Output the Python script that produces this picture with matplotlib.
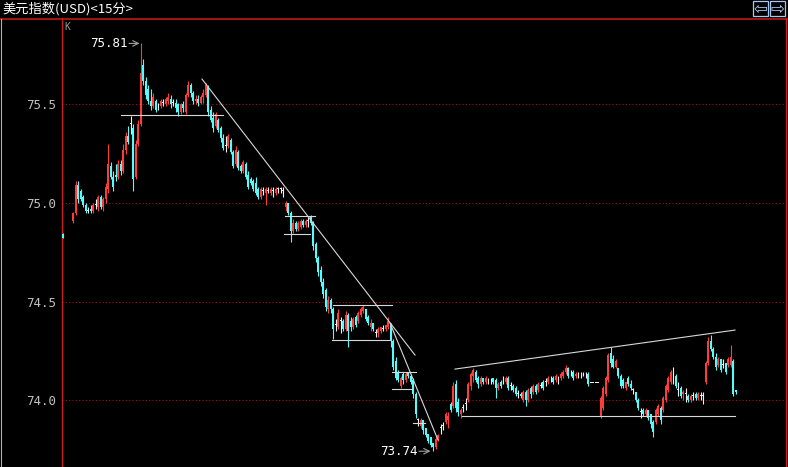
import matplotlib
matplotlib.use('Agg')
import matplotlib.pyplot as plt
from matplotlib.lines import Line2D
from matplotlib.patches import Rectangle
import numpy as np

W, H = 788, 467
title = '美元指数(USD)<15分>'
ytick_vals = [74.0, 74.5, 75.0, 75.5]
ytick_labels = ['74.0', '74.5', '75.0', '75.5']
high_label = '75.81'
low_label = '73.74'

opens = [
    74.845, 74.82, 74.82, 74.82,
    74.91, 74.95, 75.09, 75.06, 75.03, 74.99, 74.96, 74.97, 74.96, 74.99, 74.98, 75.03, 74.98, 75.02,
    75.07, 75.19, 75.13, 75.14, 75.13, 75.20, 75.16, 75.27, 75.34, 75.40, 75.38, 75.13, 75.30, 75.40,
    75.70, 75.62, 75.58, 75.52, 75.49, 75.52, 75.49, 75.49, 75.51, 75.50, 75.52, 75.53, 75.51,
    75.51, 75.50, 75.46, 75.50, 75.46, 75.55, 75.60, 75.56, 75.52, 75.53, 75.51, 75.54, 75.55,
    75.59, 75.47, 75.43, 75.39, 75.42, 75.38, 75.33, 75.29, 75.29, 75.32, 75.26, 75.20, 75.26,
    75.19, 75.16, 75.20, 75.14, 75.12, 75.11, 75.10, 75.07, 75.03, 75.06, 75.05, 75.06, 75.05,
    75.06, 75.05, 75.07, 75.07, 75.06, 74.98, 75.00, 74.95,
    74.86, 74.90, 74.87, 74.88, 74.91, 74.89, 74.91, 74.93, 74.90,
    74.79, 74.72, 74.66, 74.60, 74.56, 74.46, 74.51, 74.46,
    74.38, 74.37, 74.40, 74.40, 74.36, 74.43, 74.40, 74.37, 74.42, 74.40, 74.43, 74.45,
    74.46, 74.42, 74.37, 74.39, 74.34, 74.34, 74.35, 74.36, 74.36, 74.37, 74.38,
    74.30, 74.20, 74.14, 74.07, 74.13, 74.10, 74.14, 74.12, 74.10, 74.03, 73.90, 73.87,
    73.90, 73.86, 73.83, 73.81, 73.78,
    73.76, 73.80, 73.86, 73.87, 73.89, 73.90, 73.98, 73.97, 74.08, 73.99, 73.93, 73.96,
    73.98, 74.00, 74.07,
    74.12, 74.14, 74.11, 74.08, 74.11, 74.09, 74.10, 74.10, 74.11, 74.10, 74.06, 74.09,
    74.10, 74.09, 74.11, 74.07, 74.07, 74.06, 74.03, 74.03, 74.00, 74.04, 74.00, 74.06,
    74.04, 74.07, 74.05, 74.07, 74.09, 74.09, 74.09, 74.10, 74.11, 74.10, 74.11, 74.11,
    74.12, 74.14, 74.16, 74.14, 74.14, 74.12, 74.13, 74.13, 74.13, 74.13, 74.13,
    74.085, 74.085, 74.085, 74.085,
    73.92, 73.96, 74.03, 74.10, 74.24, 74.21, 74.17, 74.16, 74.12, 74.10, 74.06, 74.11,
    74.08, 74.05, 74.04, 74.00, 73.94, 73.95, 73.93, 73.95, 73.93, 73.89, 73.89, 73.93,
    73.96, 73.95, 74.00, 74.05, 74.09, 74.12, 74.12, 74.05, 74.06, 74.03, 74.03, 74.02,
    74.00, 74.02, 74.03, 74.01, 74.02, 74.02,
    74.09, 74.19, 74.30, 74.26, 74.22, 74.18, 74.21, 74.18, 74.19, 74.18, 74.18, 74.20, 74.05,
]
highs = [
    74.85, 74.82, 74.82, 74.82,
    74.955, 75.11, 75.11, 75.07, 75.04, 75.00, 74.98, 74.99, 75.00, 75.02, 75.04, 75.04, 75.03, 75.10,
    75.30, 75.21, 75.16, 75.20, 75.22, 75.22, 75.30, 75.36, 75.39, 75.44, 75.40, 75.32, 75.42, 75.81,
    75.73, 75.64, 75.60, 75.58, 75.56, 75.53, 75.51, 75.53, 75.53, 75.54, 75.56, 75.55, 75.53,
    75.53, 75.51, 75.51, 75.52, 75.56, 75.62, 75.61, 75.57, 75.55, 75.55, 75.55, 75.58, 75.61,
    75.60, 75.49, 75.46, 75.46, 75.43, 75.39, 75.35, 75.34, 75.35, 75.33, 75.27, 75.29, 75.27,
    75.20, 75.22, 75.21, 75.16, 75.13, 75.12, 75.13, 75.08, 75.08, 75.08, 75.08, 75.08, 75.08,
    75.08, 75.08, 75.08, 75.08, 75.08, 75.01, 75.00, 74.96,
    74.92, 74.91, 74.91, 74.92, 74.92, 74.92, 74.93, 74.94, 74.91,
    74.80, 74.73, 74.68, 74.62, 74.57, 74.53, 74.52, 74.47,
    74.41, 74.46, 74.42, 74.41, 74.45, 74.44, 74.42, 74.42, 74.43, 74.45, 74.47, 74.48,
    74.46, 74.43, 74.41, 74.39, 74.36, 74.37, 74.37, 74.38, 74.38, 74.42, 74.39,
    74.31, 74.22, 74.15, 74.12, 74.14, 74.14, 74.14, 74.13, 74.11, 74.04, 73.91, 73.91,
    73.90, 73.86, 73.83, 73.81, 73.78,
    73.81, 73.83, 73.88, 73.89, 73.94, 73.94, 73.99, 74.09, 74.10, 74.01, 73.96, 73.98,
    74.01, 74.09, 74.14,
    74.16, 74.15, 74.12, 74.12, 74.11, 74.12, 74.11, 74.11, 74.11, 74.11, 74.09, 74.10,
    74.12, 74.12, 74.12, 74.09, 74.08, 74.07, 74.05, 74.04, 74.05, 74.05, 74.06, 74.07,
    74.08, 74.08, 74.09, 74.09, 74.10, 74.11, 74.12, 74.12, 74.12, 74.13, 74.12, 74.14,
    74.15, 74.18, 74.17, 74.15, 74.15, 74.14, 74.14, 74.14, 74.14, 74.14, 74.14,
    74.085, 74.085, 74.085, 74.085,
    74.02, 74.07, 74.12, 74.24, 74.27, 74.23, 74.21, 74.16, 74.13, 74.11, 74.09, 74.12,
    74.10, 74.06, 74.04, 74.01, 73.96, 73.96, 73.96, 73.95, 73.93, 73.90, 73.96, 73.98,
    73.97, 74.02, 74.08, 74.12, 74.15, 74.17, 74.13, 74.09, 74.07, 74.05, 74.06, 74.03,
    74.03, 74.04, 74.04, 74.04, 74.04, 74.04,
    74.20, 74.32, 74.33, 74.27, 74.24, 74.22, 74.21, 74.21, 74.19, 74.22, 74.28, 74.21, 74.05,
]
lows = [
    74.82, 74.82, 74.82, 74.82,
    74.90, 74.94, 75.00, 75.01, 74.98, 74.95, 74.95, 74.95, 74.95, 74.97, 74.96, 74.97, 74.96, 75.00,
    75.05, 75.12, 75.06, 75.11, 75.12, 75.14, 75.15, 75.25, 75.30, 75.35, 75.06, 75.12, 75.29, 75.39,
    75.60, 75.53, 75.50, 75.47, 75.48, 75.46, 75.47, 75.48, 75.49, 75.49, 75.50, 75.48, 75.49,
    75.46, 75.44, 75.45, 75.46, 75.45, 75.54, 75.54, 75.50, 75.50, 75.49, 75.50, 75.51, 75.54,
    75.44, 75.41, 75.36, 75.38, 75.36, 75.31, 75.27, 75.26, 75.28, 75.25, 75.18, 75.19, 75.17,
    75.15, 75.15, 75.12, 75.07, 75.09, 75.06, 75.04, 75.02, 75.02, 75.04, 74.99, 75.05, 75.04,
    75.03, 75.04, 75.05, 75.05, 75.03, 74.96, 74.94, 74.80,
    74.85, 74.86, 74.86, 74.87, 74.88, 74.88, 74.88, 74.89, 74.76,
    74.70, 74.63, 74.58, 74.52, 74.45, 74.44, 74.44, 74.31,
    74.35, 74.36, 74.34, 74.35, 74.35, 74.27, 74.35, 74.36, 74.37, 74.39, 74.42, 74.44,
    74.40, 74.38, 74.35, 74.35, 74.32, 74.32, 74.34, 74.35, 74.35, 74.36, 74.27,
    74.15, 74.10, 74.09, 74.06, 74.08, 74.09, 74.11, 74.08, 74.01, 73.91, 73.87, 73.86,
    73.83, 73.81, 73.78, 73.76, 73.74,
    73.75, 73.79, 73.83, 73.85, 73.88, 73.86, 73.94, 73.96, 73.94, 73.92, 73.91, 73.94,
    73.95, 73.99, 74.05,
    74.09, 74.09, 74.06, 74.07, 74.08, 74.08, 74.08, 74.08, 74.08, 74.01, 74.05, 74.06,
    74.08, 74.08, 74.05, 74.05, 74.04, 74.02, 74.01, 74.01, 73.99, 73.97, 73.99, 74.01,
    74.03, 74.03, 74.04, 74.06, 74.05, 74.07, 74.08, 74.09, 74.08, 74.09, 74.08, 74.10,
    74.11, 74.13, 74.11, 74.12, 74.10, 74.11, 74.11, 74.11, 74.12, 74.11, 74.07,
    74.085, 74.085, 74.085, 74.085,
    73.91, 73.95, 74.02, 74.09, 74.17, 74.16, 74.16, 74.11, 74.06, 74.06, 74.05, 74.07,
    74.05, 74.03, 73.99, 73.95, 73.91, 73.92, 73.92, 73.90, 73.86, 73.81, 73.88, 73.92,
    73.88, 73.94, 73.99, 74.04, 74.08, 74.08, 74.06, 74.02, 74.01, 74.00, 73.99, 73.99,
    73.99, 74.00, 74.00, 74.00, 74.00, 73.98,
    74.08, 74.18, 74.25, 74.21, 74.15, 74.17, 74.14, 74.16, 74.13, 74.17, 74.17, 74.02, 74.03,
]
closes = [
    74.82, 74.82, 74.82, 74.82,
    74.95, 75.09, 75.02, 75.02, 74.99, 74.96, 74.96, 74.96, 74.99, 74.99, 75.03, 74.98, 75.02, 75.08,
    75.20, 75.13, 75.08, 75.13, 75.20, 75.16, 75.27, 75.34, 75.31, 75.40, 75.12, 75.30, 75.40, 75.66,
    75.62, 75.55, 75.52, 75.49, 75.54, 75.47, 75.49, 75.52, 75.51, 75.53, 75.54, 75.50, 75.51,
    75.48, 75.46, 75.50, 75.48, 75.55, 75.60, 75.56, 75.52, 75.53, 75.51, 75.54, 75.56, 75.60,
    75.46, 75.42, 75.38, 75.45, 75.37, 75.33, 75.28, 75.29, 75.34, 75.26, 75.19, 75.27, 75.18,
    75.16, 75.21, 75.13, 75.08, 75.10, 75.07, 75.05, 75.03, 75.07, 75.06, 75.07, 75.06, 75.07,
    75.06, 75.07, 75.07, 75.07, 75.06, 75.00, 74.95, 74.86,
    74.90, 74.87, 74.90, 74.91, 74.89, 74.91, 74.91, 74.90, 74.78,
    74.72, 74.65, 74.60, 74.54, 74.47, 74.51, 74.46, 74.36,
    74.38, 74.44, 74.40, 74.36, 74.43, 74.35, 74.37, 74.41, 74.38, 74.44, 74.46, 74.47,
    74.41, 74.39, 74.39, 74.36, 74.34, 74.36, 74.37, 74.36, 74.38, 74.40, 74.30,
    74.17, 74.11, 74.10, 74.11, 74.10, 74.13, 74.12, 74.09, 74.03, 73.93, 73.90, 73.90,
    73.85, 73.82, 73.79, 73.77, 73.76,
    73.80, 73.82, 73.86, 73.87, 73.93, 73.92, 73.95, 74.07, 73.96, 73.94, 73.95, 73.96,
    73.98, 74.08, 74.13,
    74.15, 74.10, 74.08, 74.11, 74.09, 74.11, 74.10, 74.10, 74.09, 74.06, 74.08, 74.07,
    74.10, 74.11, 74.06, 74.07, 74.05, 74.03, 74.03, 74.02, 74.04, 74.00, 74.05, 74.03,
    74.07, 74.04, 74.08, 74.07, 74.06, 74.09, 74.11, 74.10, 74.09, 74.12, 74.11, 74.13,
    74.14, 74.16, 74.12, 74.14, 74.11, 74.13, 74.13, 74.13, 74.13, 74.13, 74.08,
    74.085, 74.085, 74.085, 74.085,
    74.01, 74.06, 74.11, 74.23, 74.19, 74.17, 74.20, 74.12, 74.07, 74.07, 74.09, 74.08,
    74.06, 74.05, 74.00, 73.96, 73.94, 73.93, 73.95, 73.91, 73.88, 73.84, 73.95, 73.97,
    73.90, 74.01, 74.07, 74.11, 74.14, 74.12, 74.07, 74.05, 74.02, 74.04, 74.03, 74.00,
    74.02, 74.02, 74.01, 74.03, 74.02, 74.02,
    74.19, 74.30, 74.26, 74.22, 74.17, 74.21, 74.15, 74.18, 74.14, 74.21, 74.22, 74.03, 74.04,
]

# hand-drawn analysis lines (candle index, price)
trend_lines = [
    ((23.2, 75.447), (64.0, 75.447)),
    ((55.6, 75.629), (140.8, 74.228)),
    ((88.8, 74.934), (100.8, 74.934)),
    ((88.4, 74.843), (98.8, 74.843)),
    ((108.0, 74.480), (131.6, 74.480)),
    ((107.6, 74.305), (130.8, 74.305)),
    ((130.8, 74.391), (150.0, 73.797)),
    ((131.6, 74.142), (141.2, 74.142)),
    ((131.6, 74.056), (139.6, 74.056)),
    ((140.0, 73.883), (144.8, 73.883)),
    ((156.8, 74.157), (268.8, 74.355)),
    ((159.6, 73.920), (268.8, 73.920)),
]

UP = '#ff3c3c'
DOWN = '#54fcfc'
DOJI = '#f0f0f0'

fig = plt.figure(figsize=(W / 100, H / 100), dpi=100, facecolor='black')


def fx(x):
    return x / W


def fy(y):
    return 1 - y / H


ax = fig.add_axes([fx(62), 0, fx(786) - fx(62), 1 - 18 / H])
ax.set_facecolor('black')
n = len(closes)
idx = np.arange(n)
o = np.array(opens)
hi = np.array(highs)
lo = np.array(lows)
c = np.array(closes)
cols = [UP if cc > oo else (DOWN if cc < oo else DOJI) for oo, cc in zip(o, c)]

for v in ytick_vals:
    ax.axhline(v, color='#a01414', lw=0.8, ls=(0, (1, 2)), zorder=1)

ax.vlines(idx, lo, hi, colors=cols, lw=0.8, zorder=3)
bottoms = np.minimum(o, c)
heights = np.maximum(np.abs(c - o), 0.004)
ax.bar(idx, heights, bottom=bottoms, width=0.8, color=cols, linewidth=0, zorder=3)

for (x0, y0), (x1, y1) in trend_lines:
    ax.plot([x0, x1], [y0, y1], color='#d8d8d8', lw=0.8, zorder=4)

ax.set_xlim(-0.4, 289.2)
ax.set_ylim(73.660, 75.939)
ax.set_xticks([])
ax.set_yticks(ytick_vals, ytick_labels)
ax.tick_params(axis='y', length=0, pad=4, colors='#c0c0c0', labelsize=9)
for t in ax.get_yticklabels():
    t.set_fontfamily('DejaVu Sans Mono')
for s in ['top', 'bottom']:
    ax.spines[s].set_visible(False)
for s in ['left', 'right']:
    ax.spines[s].set_color('#d02020')
    ax.spines[s].set_linewidth(1)

# high / low markers
i_hi = int(np.argmax(hi))
i_lo = int(np.argmin(lo))
ax.text(i_hi - 5.0, hi[i_hi], high_label, color='white', fontsize=9,
        family='DejaVu Sans Mono', ha='right', va='center', zorder=5)
ax.annotate('', xy=(i_hi - 0.4, hi[i_hi]), xytext=(i_hi - 4.6, hi[i_hi]),
            arrowprops=dict(arrowstyle='->', color='#a0a0a0', lw=0.8, shrinkA=0, shrinkB=0))
ax.text(i_lo - 6.3, lo[i_lo], low_label, color='white', fontsize=9,
        family='DejaVu Sans Mono', ha='right', va='center', zorder=5)
ax.annotate('', xy=(i_lo - 1.0, lo[i_lo]), xytext=(i_lo - 5.6, lo[i_lo]),
            arrowprops=dict(arrowstyle='->', color='#a0a0a0', lw=0.8, shrinkA=0, shrinkB=0))

# frame / title bar
fig.add_artist(Line2D([0, fx(787)], [fy(18.5), fy(18.5)], color='#c01818', lw=1.2))
fig.add_artist(Line2D([fx(0.6), fx(0.6)], [0, fy(18.5)], color='#b0b0b0', lw=0.8))
fig.text(fx(2), fy(9), title, color='white', fontsize=9.5,
         family=['Noto Sans CJK SC', 'DejaVu Sans'], va='center', ha='left')
fig.text(fx(64), fy(27), 'K', color='#9a9a9a', fontsize=7, family='DejaVu Sans Mono',
         va='center', ha='left')

for bx, glyph in [(753, '⇦'), (770, '⇨')]:
    fig.add_artist(Rectangle((fx(bx), fy(16)), 15 / W, 15 / H, transform=fig.transFigure,
                             facecolor='black', edgecolor='#a8c8f0', lw=0.9))
    fig.text(fx(bx + 7.5), fy(8.5), glyph, color='#a8c8f0', fontsize=12,
             family='DejaVu Sans', ha='center', va='center')

fig.savefig('out.png', dpi=100, facecolor='black')
